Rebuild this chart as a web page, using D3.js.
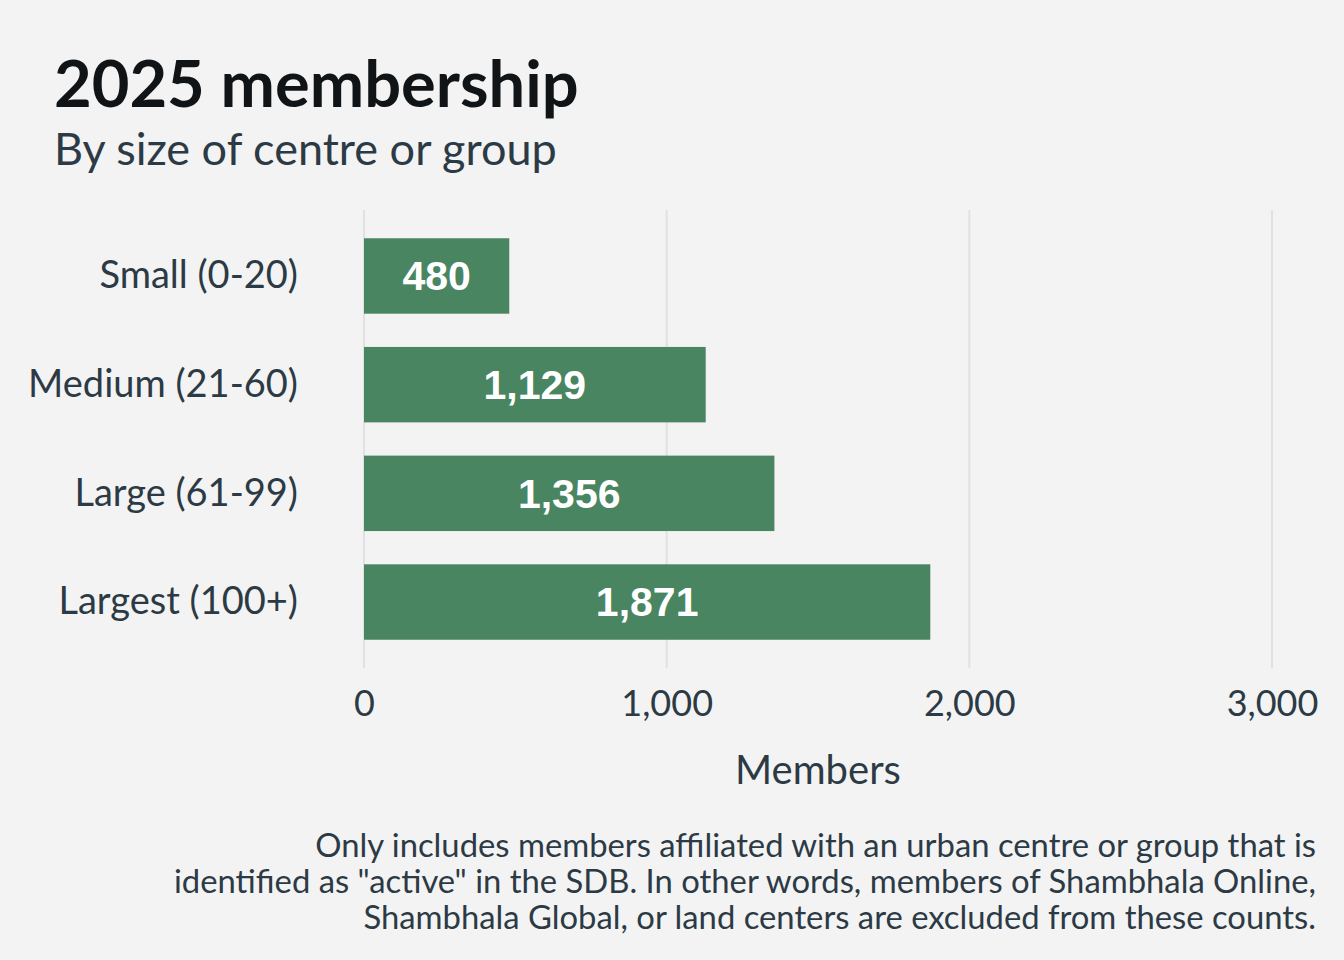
<!DOCTYPE html>
<html>
<head>
<meta charset="utf-8">
<script src="https://cdn.jsdelivr.net/npm/d3@7"></script>
<style>
  body { margin: 0; background: #f3f3f3; }
  svg { display: block; font-family: Lato, "Noto Sans", sans-serif; }
</style>
</head>
<body>
<svg id="chart" width="1344" height="960"></svg>
<script>
const categories = ["Small (0-20)", "Medium (21-60)", "Large (61-99)", "Largest (100+)"];
const members = [480, 1129, 1356, 1871];
const xTicks = [0, 1000, 2000, 3000];
const captionLines = [
    "Only includes members affiliated with an urban centre or group that is",
    "identified as \"active\" in the SDB. In other words, members of Shambhala Online,",
    "Shambhala Global, or land centers are excluded from these counts."
];

const svg = d3.select("#chart");
const margin = { top: 210, right: 72, bottom: 292, left: 364 };
const width = 1344, height = 960;

svg.append("rect").attr("width", width).attr("height", height).attr("fill", "#f3f3f3");

// Title and subtitle
svg.append("text")
    .attr("x", 54).attr("y", 107)
    .attr("fill", "#111417")
    .style("font-size", "65px").style("font-weight", "700")
    .text("2025 membership");
svg.append("text")
    .attr("x", 54).attr("y", 165)
    .attr("fill", "#2c3a45")
    .style("font-size", "45px")
    .text("By size of centre or group");

const x = d3.scaleLinear()
    .domain([0, 3000])
    .range([margin.left, width - margin.right]);

const y = d3.scaleBand()
    .domain(categories)
    .range([margin.top, height - margin.bottom])
    .paddingInner(0.306)
    .paddingOuter(0.26);

// Gridlines
svg.append("g")
    .selectAll("line")
    .data(xTicks)
    .join("line")
    .attr("x1", d => x(d)).attr("x2", d => x(d))
    .attr("y1", margin.top).attr("y2", height - margin.bottom)
    .attr("stroke", "#e1e1e1")
    .attr("stroke-width", 2);

// X axis
const xAxis = svg.append("g")
    .attr("transform", `translate(0,${height - margin.bottom})`)
    .call(d3.axisBottom(x).tickValues(xTicks).tickFormat(d3.format(",")).tickSize(0).tickPadding(22));
xAxis.select(".domain").remove();
xAxis.selectAll("text")
    .attr("fill", "#2c3a45")
    .style("font-size", "36px")
    .style("font-family", "Lato, sans-serif");

// Y axis
const yAxis = svg.append("g")
    .attr("transform", `translate(${margin.left},0)`)
    .call(d3.axisLeft(y).tickSize(0).tickPadding(66));
yAxis.select(".domain").remove();
yAxis.selectAll("text")
    .attr("fill", "#2c3a45")
    .style("font-size", "38px")
    .style("font-family", "Lato, sans-serif");

// Bars
svg.append("g")
    .selectAll("rect")
    .data(members)
    .join("rect")
    .attr("x", x(0))
    .attr("y", (d, i) => y(categories[i]))
    .attr("width", d => x(d) - x(0))
    .attr("height", y.bandwidth())
    .attr("fill", "#4a8561");

// Value labels
svg.append("g")
    .selectAll("text")
    .data(members)
    .join("text")
    .attr("x", d => (x(0) + x(d)) / 2)
    .attr("y", (d, i) => y(categories[i]) + y.bandwidth() / 2)
    .attr("dy", "0.35em")
    .attr("text-anchor", "middle")
    .attr("fill", "#ffffff")
    .style("font-family", "'Liberation Sans', Arial, sans-serif")
    .style("font-weight", "700")
    .style("font-size", "41px")
    .text(d => d3.format(",")(d));

// Axis title
svg.append("text")
    .attr("x", (x(0) + x(3000)) / 2)
    .attr("y", 784)
    .attr("text-anchor", "middle")
    .attr("fill", "#2c3a45")
    .style("font-size", "40px")
    .text("Members");

// Caption
svg.append("text")
    .attr("text-anchor", "end")
    .attr("fill", "#2c3a45")
    .style("font-size", "32.8px")
    .selectAll("tspan")
    .data(captionLines)
    .join("tspan")
    .attr("x", 1316)
    .attr("y", (d, i) => 857 + i * 36)
    .text(d => d);
</script>
</body>
</html>
